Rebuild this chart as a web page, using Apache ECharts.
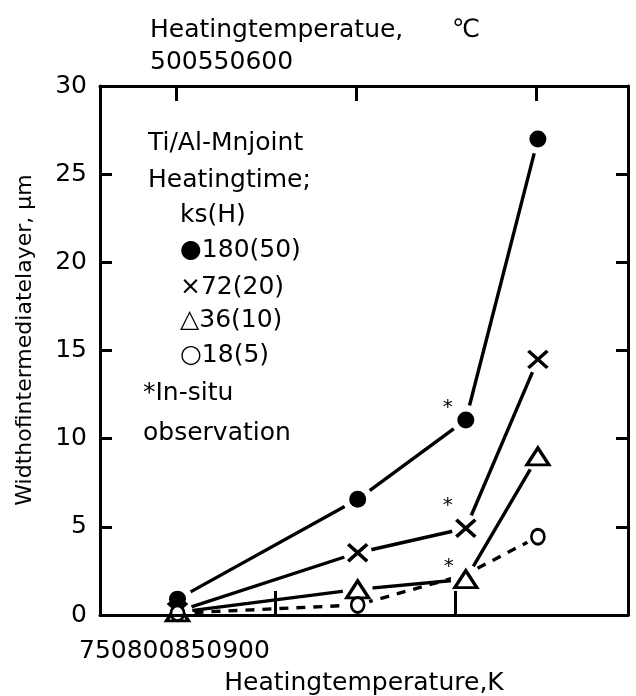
<!DOCTYPE html>
<html>
<head>
<meta charset="utf-8">
<script src="https://cdn.jsdelivr.net/npm/echarts@6/dist/echarts.min.js"></script>
<style>html,body{margin:0;padding:0;background:#fff}#c{width:636px;height:696px}</style>
</head>
<body>
<div id="c"></div>
<script>
// ---- data ----
const tempK = [773, 823, 853, 873];              // heating temperature, K
const width180 = [0.9, 6.56, 11.06, 27.0];        // 180 ks (50 h)
const width72  = [0.2, 3.53, 4.92, 14.5];         // 72 ks (20 h)
const width36  = [0.15, 1.45, 2.03, 9.0];         // 36 ks (10 h)
const width18  = [0.1, 0.57, 2.3, 4.44];          // 18 ks (5 h)
const insituIndex = 2;                            // in-situ observation point
const hiddenMarker18 = [2];                       // marker not visible in source
const bottomTickLabels = ['750', '800', '850', '900'];
const bottomTickMarks = [800, 850];
const topTickLabels = ['500', '550', '600'];
const topTickMarks = [500, 550, 600];
const legendLines = ['Ti/Al-Mnjoint', 'Heatingtime;', 'ks(H)', '\u25CF180(50)', '\u00D772(20)', '\u25B336(10)', '\u25CB18(5)', '*In-situ', 'observation'];
const yTitle = 'Widthofintermediatelayer, \u03BCm';

const FONT = '"DejaVu Sans", sans-serif';
const chart = echarts.init(document.getElementById('c'), null, {renderer: 'canvas'});

function pts(ys) { return tempK.map((x, i) => [x, ys[i]]); }

const groups = [
  {ys: width180, symbol: 'circle', size: [17, 17], fill: '#000', stroke: '#000', bw: 0, halo: 30, line: 'solid', star: [-18, -12]},
  {ys: width72, symbol: 'path://M0,0L10,10M10,0L0,10', size: [19, 17], fill: 'none', stroke: '#000', bw: 3.4, halo: 28, line: 'solid', star: [-18, -22]},
  {ys: width36, symbol: 'triangle', size: [22, 17], fill: '#fff', stroke: '#000', bw: 3.2, halo: 30, line: 'solid', star: [-17, -12]},
  {ys: width18, symbol: 'circle', size: [13, 15], fill: '#fff', stroke: '#000', bw: 2.8, halo: 24, line: [9, 8], star: null, hidden: hiddenMarker18}
];

const series = [];
groups.forEach(g => {
  series.push({type: 'line', data: pts(g.ys), symbol: 'none', silent: true, z: 2,
    lineStyle: {color: '#000', width: 3.4, type: g.line, opacity: 1}});
});
groups.forEach(g => {
  series.push({type: 'scatter', silent: true, z: 3, symbol: 'circle', symbolSize: g.halo,
    itemStyle: {color: '#fff', opacity: 1},
    data: pts(g.ys).filter((p, i) => !(g.hidden && g.hidden.includes(i)))});
});
groups.forEach(g => {
  series.push({type: 'scatter', silent: true, z: 4, symbol: g.symbol, symbolSize: g.size,
    itemStyle: {color: g.fill, borderColor: g.stroke, borderWidth: g.bw, opacity: 1},
    data: pts(g.ys).map((p, i) => {
      const item = {value: p};
      if (g.hidden && g.hidden.includes(i)) item.symbol = 'none';
      if (g.star && i === insituIndex) {
        item.label = {show: true, formatter: '*', position: 'inside', offset: g.star,
          color: '#000', fontSize: 20, fontFamily: FONT};
      }
      return item;
    })});
});

const axisLine = {show: true, onZero: false, lineStyle: {color: '#000', width: 3}};
const graphics = [];
graphics.push({type: 'text', x: 150, y: 30, style: {text: 'Heatingtemperatue,', font: '25px ' + FONT, fill: '#000', verticalAlign: 'middle'}});
graphics.push({type: 'text', x: 452, y: 30, style: {text: '\u2103', font: '25px ' + FONT, fill: '#000', verticalAlign: 'middle'}});
graphics.push({type: 'text', x: 150, y: 62, style: {text: topTickLabels.join(''), font: '25px ' + FONT, fill: '#000', verticalAlign: 'middle'}});
graphics.push({type: 'text', x: 79, y: 651, style: {text: bottomTickLabels.join(''), font: '25px ' + FONT, fill: '#000', verticalAlign: 'middle'}});
graphics.push({type: 'text', x: 25, y: 340, rotation: Math.PI / 2, style: {text: yTitle, font: '22px ' + FONT, fill: '#000', align: 'center', verticalAlign: 'middle'}});
const legendPos = [[148,143],[148,180],[180,215],[180,250],[180,287],[180,320],[180,355],[143,393],[143,433]];
legendLines.forEach((t, i) => {
  graphics.push({type: 'text', x: legendPos[i][0], y: legendPos[i][1], style: {text: t, font: '25px ' + FONT, fill: '#000', verticalAlign: 'middle'}});
});

chart.setOption({
  animation: false,
  backgroundColor: '#fff',
  grid: {left: 100, right: 8, top: 86, bottom: 81, containLabel: false, outerBoundsMode: 'none'},
  xAxis: [
    {type: 'value', position: 'bottom', min: 751.5, max: 898, z: 10,
     axisLine: axisLine, splitLine: {show: false},
     axisTick: {show: true, inside: true, length: 24, customValues: bottomTickMarks, lineStyle: {color: '#000', width: 3}},
     axisLabel: {show: false},
     name: 'Heatingtemperature,K', nameLocation: 'middle', nameGap: 56,
     nameTextStyle: {color: '#000', fontSize: 25, fontFamily: FONT}},
    {type: 'value', position: 'top', min: 478.9, max: 625.6, z: 10,
     axisLine: axisLine, splitLine: {show: false},
     axisTick: {show: true, inside: true, length: 15, customValues: topTickMarks, lineStyle: {color: '#000', width: 3}},
     axisLabel: {show: false}}
  ],
  yAxis: [
    {type: 'value', position: 'left', min: 0, max: 30, interval: 5, z: 10,
     axisLine: axisLine, splitLine: {show: false},
     axisTick: {show: true, inside: true, length: 12, lineStyle: {color: '#000', width: 3}},
     axisLabel: {color: '#000', fontSize: 25, fontFamily: FONT, margin: 13}},
    {type: 'value', position: 'right', min: 0, max: 30, interval: 5, z: 10,
     axisLine: axisLine, splitLine: {show: false},
     axisTick: {show: true, inside: true, length: 12, lineStyle: {color: '#000', width: 3}},
     axisLabel: {show: false}}
  ],
  graphic: graphics,
  series: series
});
</script>
</body>
</html>
